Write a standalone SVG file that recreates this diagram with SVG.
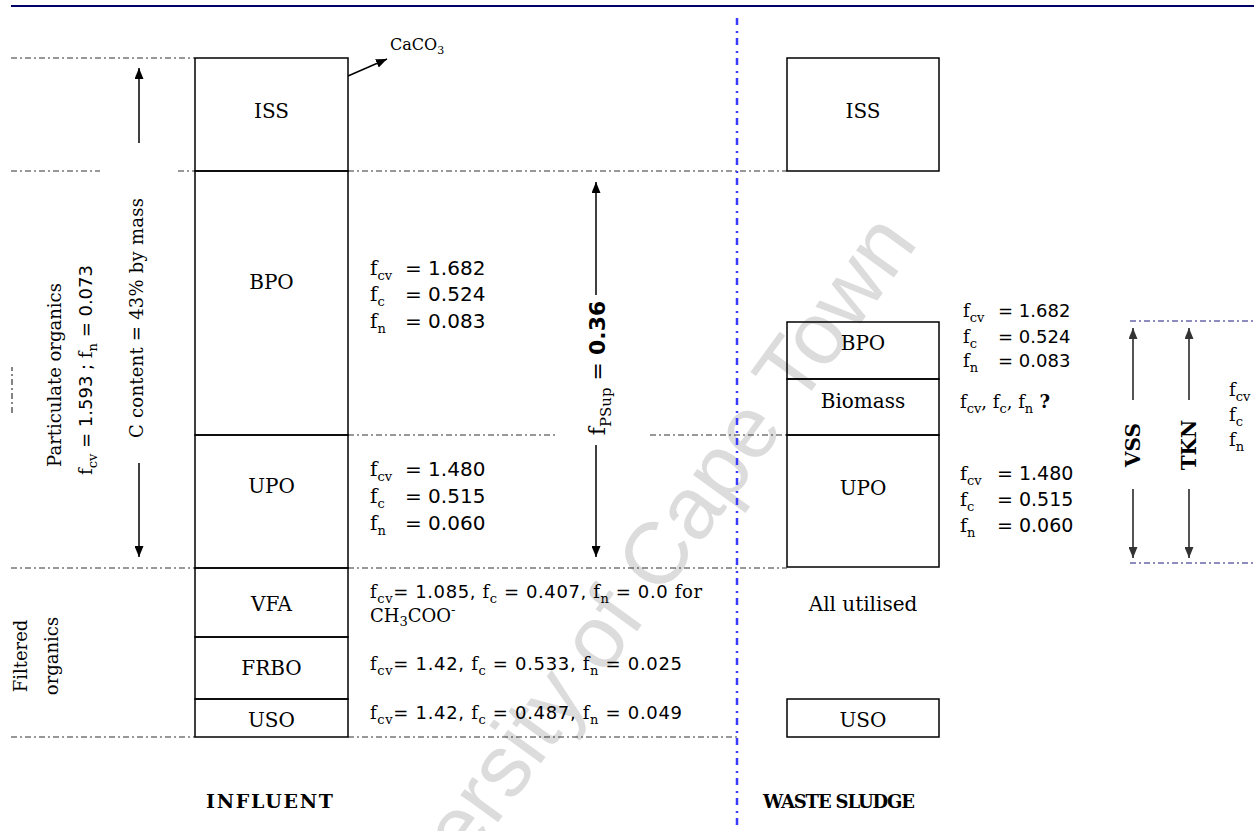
<svg xmlns="http://www.w3.org/2000/svg" width="1254" height="831" viewBox="0 0 1254 831">
<defs>
<style>
.box{fill:none;stroke:#000;stroke-width:1.5}
.dd{fill:none;stroke:#333;stroke-width:1.2;stroke-dasharray:6 3 2 3}
.nv{fill:none;stroke:#1a1a80;stroke-width:1.2;stroke-dasharray:6 3 2 3}
.bl{fill:none;stroke:#3b3bff;stroke-width:2.5;stroke-dasharray:7 6 2 5}
.ar{fill:none;stroke:#000;stroke-width:1.5}
.ga{fill:none;stroke:#555;stroke-width:2}
text{font-family:"DejaVu Serif",serif;fill:#000}
.lb{font-size:20px;text-anchor:middle}
.p{font-size:20px}
.m{font-size:18px}
.n{font-family:"DejaVu Sans",sans-serif}
.s{font-size:13px}
.b{font-weight:bold}
.wm{font-family:"Liberation Sans",sans-serif;font-size:88px;fill:#dcdcdc}
</style>
<marker id="ah" viewBox="0 0 11 9" refX="11" refY="4.5" markerWidth="11" markerHeight="9" markerUnits="userSpaceOnUse" orient="auto"><path d="M0,0L11,4.5L0,9z" fill="#000"/></marker>
<marker id="ahg" viewBox="0 0 11 9" refX="11" refY="4.5" markerWidth="11" markerHeight="9" markerUnits="userSpaceOnUse" orient="auto"><path d="M0,0L11,4.5L0,9z" fill="#333"/></marker>
</defs>

<text class="wm" text-anchor="end" transform="translate(919,243) rotate(-54)">University of Cape Town</text>

<line x1="11" y1="6" x2="1254" y2="6" stroke="#000066" stroke-width="2"/>

<g id="guides">
<path class="dd" d="M11,58H195 M11,171H100 M178,171H195 M348,171H787 M348,435H558 M650,435H787 M11,568H195 M348,568H787 M11,737H195 M348,737H737"/>
<path class="dd" d="M12,413V367"/>
<path class="nv" d="M1130,321H1254 M1130,563H1254"/>
<line class="bl" x1="737" y1="18" x2="737" y2="831"/>
</g>

<g id="connectors">
<path class="ar" d="M348,76L387,59" marker-end="url(#ah)"/>
<path class="ar" d="M139,143V68" marker-end="url(#ah)"/>
<path class="ar" d="M139,463V557" marker-end="url(#ah)"/>
<path class="ar" d="M596,295V182" marker-end="url(#ah)"/>
<path class="ar" d="M596,445V557" marker-end="url(#ah)"/>
<path class="ga" d="M1133,400V328" marker-end="url(#ahg)"/>
<path class="ga" d="M1133,489V558" marker-end="url(#ahg)"/>
<path class="ga" d="M1189,400V328" marker-end="url(#ahg)"/>
<path class="ga" d="M1189,489V558" marker-end="url(#ahg)"/>
</g>

<g id="inf-iss"><rect class="box" x="195" y="58" width="153" height="113"/><text class="lb" x="271.5" y="118">ISS</text></g>
<g id="inf-bpo"><rect class="box" x="195" y="171" width="153" height="264"/><text class="lb" x="271.5" y="289">BPO</text></g>
<g id="inf-upo"><rect class="box" x="195" y="435" width="153" height="133"/><text class="lb" x="271.5" y="493">UPO</text></g>
<g id="inf-vfa"><rect class="box" x="195" y="568" width="153" height="69"/><text class="lb" x="271.5" y="611">VFA</text></g>
<g id="inf-frbo"><rect class="box" x="195" y="637" width="153" height="62"/><text class="lb" x="271.5" y="675">FRBO</text></g>
<g id="inf-uso"><rect class="box" x="195" y="699" width="153" height="38"/><text class="lb" x="271.5" y="727">USO</text></g>

<g id="ws-iss"><rect class="box" x="787" y="58" width="152" height="113"/><text class="lb" x="863" y="118">ISS</text></g>
<g id="ws-bpo"><rect class="box" x="787" y="322" width="152" height="57"/><text class="lb" x="863" y="350">BPO</text></g>
<g id="ws-biomass"><rect class="box" x="787" y="379" width="152" height="56"/><text class="lb" x="863" y="408">Biomass</text></g>
<g id="ws-upo"><rect class="box" x="787" y="435" width="152" height="132"/><text class="lb" x="863" y="495">UPO</text></g>
<g id="ws-util"><text class="lb" x="863" y="611">All utilised</text></g>
<g id="ws-uso"><rect class="box" x="787" y="699" width="152" height="38"/><text class="lb" x="863" y="727">USO</text></g>

<g id="caco3"><text x="390" y="50" style="font-size:16px">CaCO<tspan class="s" dy="4" style="font-size:11px">3</tspan></text></g>

<g id="inf-bpo-params">
<text class="p" x="370" y="275">f<tspan class="s" dy="5">cv</tspan></text><text class="p n" x="405" y="275">= 1.682</text>
<text class="p" x="370" y="301">f<tspan class="s" dy="5">c</tspan></text><text class="p n" x="405" y="301">= 0.524</text>
<text class="p" x="370" y="328">f<tspan class="s" dy="5">n</tspan></text><text class="p n" x="405" y="328">= 0.083</text>
</g>
<g id="inf-upo-params">
<text class="p" x="370" y="476">f<tspan class="s" dy="5">cv</tspan></text><text class="p n" x="405" y="476">= 1.480</text>
<text class="p" x="370" y="503">f<tspan class="s" dy="5">c</tspan></text><text class="p n" x="405" y="503">= 0.515</text>
<text class="p" x="370" y="530">f<tspan class="s" dy="5">n</tspan></text><text class="p n" x="405" y="530">= 0.060</text>
</g>
<g id="inf-vfa-params">
<text class="m" x="370" y="598" textLength="332">f<tspan class="s" dy="5">cv</tspan><tspan class="n" dy="-5">= 1.085, </tspan>f<tspan class="s" dy="5">c</tspan><tspan class="n" dy="-5"> = 0.407, </tspan>f<tspan class="s" dy="5">n</tspan><tspan class="n" dy="-5"> = 0.0 </tspan>for</text>
<text class="m" x="370" y="622">CH<tspan class="s" dy="4">3</tspan><tspan dy="-4">COO</tspan><tspan class="s" dy="-8">-</tspan></text>
</g>
<g id="inf-frbo-params">
<text class="m" x="370" y="670" textLength="312">f<tspan class="s" dy="5">cv</tspan><tspan class="n" dy="-5">= 1.42, </tspan>f<tspan class="s" dy="5">c</tspan><tspan class="n" dy="-5"> = 0.533, </tspan>f<tspan class="s" dy="5">n</tspan><tspan class="n" dy="-5"> = 0.025</tspan></text>
</g>
<g id="inf-uso-params">
<text class="m" x="370" y="719" textLength="312">f<tspan class="s" dy="5">cv</tspan><tspan class="n" dy="-5">= 1.42, </tspan>f<tspan class="s" dy="5">c</tspan><tspan class="n" dy="-5"> = 0.487, </tspan>f<tspan class="s" dy="5">n</tspan><tspan class="n" dy="-5"> = 0.049</tspan></text>
</g>

<g id="ws-bpo-params">
<text class="m" x="963" y="317">f<tspan class="s" dy="5">cv</tspan></text><text class="m n" x="998" y="317">= 1.682</text>
<text class="m" x="963" y="343">f<tspan class="s" dy="5">c</tspan></text><text class="m n" x="998" y="343">= 0.524</text>
<text class="m" x="963" y="367">f<tspan class="s" dy="5">n</tspan></text><text class="m n" x="998" y="367">= 0.083</text>
</g>
<g id="ws-biomass-params">
<text class="m" x="960" y="408">f<tspan class="s" dy="5">cv</tspan><tspan dy="-5">, f</tspan><tspan class="s" dy="5">c</tspan><tspan dy="-5">, f</tspan><tspan class="s" dy="5">n</tspan><tspan class="b" dy="-5">  ?</tspan></text>
</g>
<g id="ws-upo-params">
<text class="p" x="960" y="480" style="font-size:19px">f<tspan class="s" dy="5">cv</tspan></text><text class="n" x="997" y="480" style="font-size:19px">= 1.480</text>
<text class="p" x="960" y="506" style="font-size:19px">f<tspan class="s" dy="5">c</tspan></text><text class="n" x="997" y="506" style="font-size:19px">= 0.515</text>
<text class="p" x="960" y="532" style="font-size:19px">f<tspan class="s" dy="5">n</tspan></text><text class="n" x="997" y="532" style="font-size:19px">= 0.060</text>
</g>
<g id="right-params">
<text class="m" x="1229" y="396">f<tspan class="s" dy="5">cv</tspan></text>
<text class="m" x="1229" y="421">f<tspan class="s" dy="5">c</tspan></text>
<text class="m" x="1229" y="446">f<tspan class="s" dy="5">n</tspan></text>
</g>

<g id="side-labels">
<text class="m" text-anchor="middle" transform="translate(61,375) rotate(-90)">Particulate organics</text>
<text class="m" text-anchor="middle" transform="translate(92,370) rotate(-90)">f<tspan class="s" dy="5">cv</tspan><tspan class="n" dy="-5"> = 1.593 ; </tspan>f<tspan class="s" dy="5">n</tspan><tspan class="n" dy="-5"> = 0.073</tspan></text>
<text class="m" text-anchor="middle" transform="translate(143,318) rotate(-90)" textLength="240">C content = 43% by mass</text>
<text class="m" text-anchor="middle" transform="translate(27,656) rotate(-90)">Filtered</text>
<text class="m" text-anchor="middle" transform="translate(58,656) rotate(-90)">organics</text>
</g>

<g id="fpsup"><text text-anchor="middle" transform="translate(605,368) rotate(-90)" style="font-size:22px">f<tspan class="s" dy="6" style="font-size:15px">PSup</tspan><tspan class="n" dy="-6"> = </tspan><tspan class="n b">0.36</tspan></text></g>
<g id="vss"><text class="p b" text-anchor="middle" transform="translate(1140,445) rotate(-90)">VSS</text></g>
<g id="tkn"><text class="p b" text-anchor="middle" transform="translate(1196,445) rotate(-90)">TKN</text></g>

<g id="titles">
<text class="b" x="206" y="808" style="font-size:19px" textLength="127">INFLUENT</text>
<text class="b" x="763" y="808" style="font-size:18px" textLength="152">WASTE SLUDGE</text>
</g>
</svg>
